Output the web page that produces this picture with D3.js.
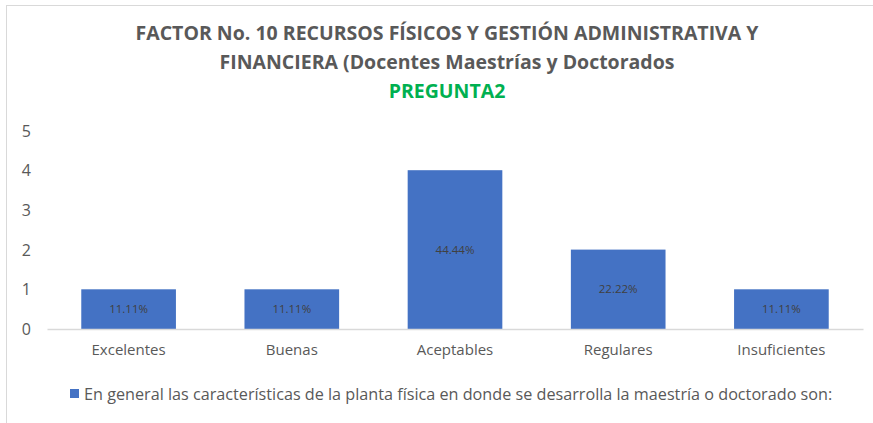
<!DOCTYPE html>
<html>
<head>
<meta charset="utf-8">
<script src="https://cdn.jsdelivr.net/npm/d3@7"></script>
<style>
  body { margin: 0; background: #fff; }
  svg { display: block; font-family: 'Open Sans', sans-serif; }
</style>
</head>
<body>
<div id="chart"></div>
<script>
var categories = ['Excelentes', 'Buenas', 'Aceptables', 'Regulares', 'Insuficientes']
var counts = [1, 1, 4, 2, 1]
var percentLabels = ['11.11%', '11.11%', '44.44%', '22.22%', '11.11%']
var yTicks = [0, 1, 2, 3, 4, 5]
var titleLines = [
  'FACTOR No. 10 RECURSOS FÍSICOS Y GESTIÓN ADMINISTRATIVA Y',
  'FINANCIERA (Docentes Maestrías y Doctorados'
]
var subtitle = 'PREGUNTA2'
var seriesName = 'En general las características de la planta física en donde se desarrolla la maestría o doctorado son:'

var W = 873, H = 423

var svg = d3.select('#chart').append('svg')
  .attr('width', W)
  .attr('height', H)

// chart frame
svg.append('rect')
  .attr('x', 6.5).attr('y', 5.5)
  .attr('width', W + 10).attr('height', H + 10)
  .attr('fill', '#fff')
  .attr('stroke', '#d9d9d9')

var x = d3.scaleBand()
  .domain(categories)
  .range([47, 863])
  .paddingInner(0.42)
  .paddingOuter(0.21)

var y = d3.scaleLinear()
  .domain([0, 5])
  .range([329, 130.5])

// title
titleLines.forEach(function (t, i) {
  svg.append('text')
    .attr('x', 447).attr('y', 40 + i * 29)
    .attr('text-anchor', 'middle')
    .style('font-size', '19.5px')
    .style('font-weight', 'bold')
    .style('fill', '#595959')
    .text(t)
})
svg.append('text')
  .attr('x', 447).attr('y', 98)
  .attr('text-anchor', 'middle')
  .style('font-size', '19.5px')
  .style('font-weight', 'bold')
  .style('fill', '#00b050')
  .text(subtitle)

// y axis labels
var yAxis = d3.axisLeft(y).tickValues(yTicks).tickFormat(d3.format('d')).tickSize(0).tickPadding(0)
var gy = svg.append('g').attr('transform', 'translate(31,0)').call(yAxis)
gy.attr('font-family', null)
gy.select('.domain').remove()
gy.selectAll('text').style('font-size', '16px').style('fill', '#595959').attr('dy', '0.35em')

// bars
svg.selectAll('.bar')
  .data(counts)
  .enter()
  .append('rect')
  .attr('class', 'bar')
  .attr('x', function (d, i) { return x(categories[i]) })
  .attr('y', function (d) { return y(d) })
  .attr('width', x.bandwidth())
  .attr('height', function (d) { return y(0) - y(d) })
  .attr('fill', '#4472c4')

// data labels
svg.selectAll('.lbl')
  .data(counts)
  .enter()
  .append('text')
  .attr('class', 'lbl')
  .attr('x', function (d, i) { return x(categories[i]) + x.bandwidth() / 2 })
  .attr('y', function (d) { return (y(d) + y(0)) / 2 })
  .attr('dy', '0.35em')
  .attr('text-anchor', 'middle')
  .style('font-size', '11.5px')
  .style('fill', '#404040')
  .text(function (d, i) { return percentLabels[i] })

// x axis
var xAxis = d3.axisBottom(x).tickSize(0).tickPadding(0)
var gx = svg.append('g').attr('transform', 'translate(0,' + y(0) + ')').call(xAxis)
gx.attr('font-family', null)
gx.select('.domain').attr('stroke', '#d9d9d9').attr('stroke-width', 1.5)
gx.selectAll('text').style('font-size', '15px').style('fill', '#595959').attr('dy', '1.75em')

// legend
svg.append('rect')
  .attr('x', 70).attr('y', 389)
  .attr('width', 9).attr('height', 9)
  .attr('fill', '#4472c4')
svg.append('text')
  .attr('x', 84).attr('y', 394)
  .attr('dy', '0.35em')
  .style('font-size', '16.2px')
  .style('fill', '#595959')
  .text(seriesName)
</script>
</body>
</html>
